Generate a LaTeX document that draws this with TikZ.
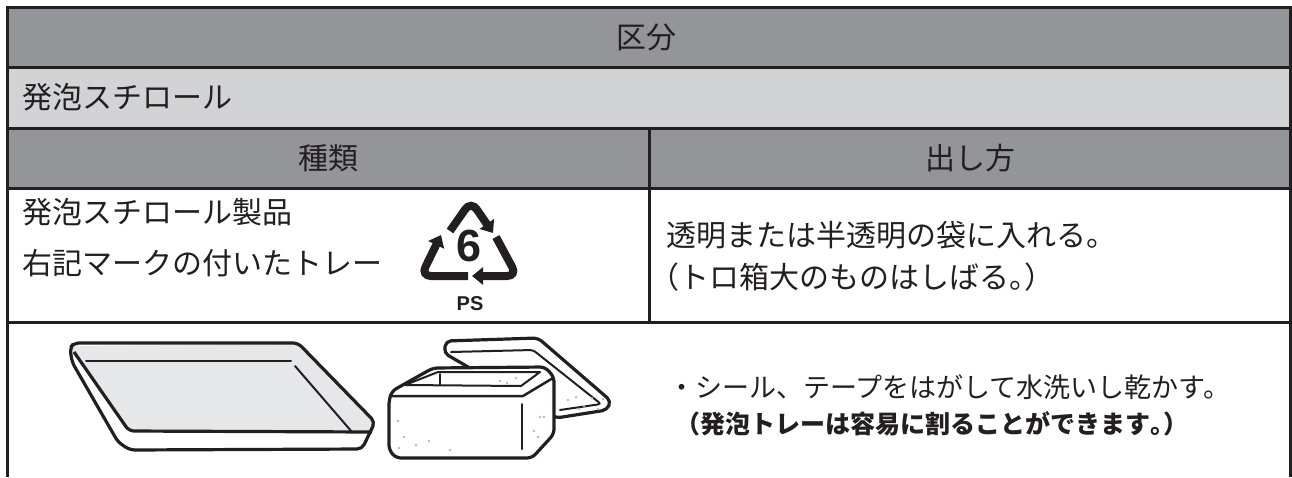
\documentclass[tikz,border=0pt]{standalone}
\usepackage{fontspec}
\setmainfont{Noto Sans CJK JP}
\newfontfamily\markfont{Liberation Sans}
\usetikzlibrary{arrows.meta,calc}
\definecolor{ink}{HTML}{231F20}
\definecolor{darkcell}{HTML}{939598}
\definecolor{lightcell}{HTML}{D1D3D4}
\definecolor{trayfill}{HTML}{E6E7E8}
\definecolor{dotgray}{HTML}{B8B8B8}
\newcommand\jhalf[1]{{\addfontfeature{RawFeature=+halt}#1}}
\tikzset{
  gridline/.style={line width=3pt,draw=ink},
  txt/.style={inner sep=0pt,text=ink,font=\fontsize{30}{36}\selectfont},
  notetext/.style={inner sep=0pt,text=ink,font=\fontsize{27}{32}\selectfont},
  heavyline/.style={line width=3.2pt,draw=ink,line join=round,rounded corners=5pt},
  fineline/.style={line width=2pt,draw=ink,line cap=round},
  speck/.style={fill=dotgray,draw=none},
  recarrow/.style={line width=8pt,draw=ink,rounded corners=10pt,-{Triangle[width=17pt,length=11pt]}}
}
\begin{document}
\begin{tikzpicture}[x=1pt,y=-1pt]
		\useasboundingbox (0,0) rectangle (1292,477);
		% table
		\fill[darkcell] (7,7) rectangle (1290,67);
		\fill[lightcell] (7,67) rectangle (1290,128);
		\fill[darkcell] (7,128) rectangle (1290,188);
		\foreach \y in {7,67,128,188,322}
			\draw[gridline] (7,\y) -- (1290,\y);
		\draw[gridline] (7,5.5) -- (7,477);
		\draw[gridline] (1290,5.5) -- (1290,477);
		\draw[gridline] (649,128) -- (649,322);
		\node[txt] (zone) at (646,37) {区分};
		\node[txt,anchor=west] (kindname) at (22,97) {発泡スチロール};
		\node[txt] (typehead) at (328,158) {種類};
		\node[txt] (wayhead) at (970,158) {出し方};
		\node[txt,anchor=west] (item1) at (22,212) {発泡スチロール製品};
		\node[txt,anchor=west] (item2) at (22,263) {右記マークの付いたトレー};
		\node[txt,anchor=west] (way1) at (666,235) {透明または半透明の袋に入れる。};
		\node[txt,anchor=west] (way2) at (664,277) {\jhalf{（}トロ箱大のものはしばる\jhalf{。）}};
		\node[notetext,anchor=west] (tip1) at (668,387) {・シール、テープをはがして水洗いし乾かす。};
		\node[notetext,anchor=west,font=\bfseries\fontsize{25}{30}\selectfont] (tip2) at (688,424) {\jhalf{（}発泡トレーは容易に割ることができます\jhalf{。）}};
		% recycling mark
		\coordinate (apex) at (471,201);
		\coordinate (cornerL) at (421,276);
		\coordinate (cornerR) at (517,276);
		\draw[recarrow] (450,231) -- (apex) -- (493,233);
		\draw[recarrow] (496,237) -- (cornerR) -- (472,276);
		\draw[recarrow] (468,276) -- (cornerL) -- (441,235);
		\node[inner sep=0pt,text=ink,font=\markfont\bfseries\fontsize{45}{45}\selectfont] (six) at (469,246) {6};
		\node[inner sep=0pt,text=ink,font=\markfont\bfseries\fontsize{20}{20}\selectfont] (ps) at (470,304) {PS};
		% tray
		\fill[trayfill] (71,346) -- (299,344) -- (374,422) -- (371,432) -- (135,432) -- (127,427) -- (74,353) -- cycle;
		\draw[heavyline] (74,352) -- (129,431) -- (372,432);
		\draw[heavyline] (74,343) -- (298,343) -- (375,422) -- (362,449) -- (130,450) -- (118,442) -- (72,362) -- (70,348) -- cycle;
		\draw[fineline] (86,361) -- (291,361);
		\draw[fineline] (295,366) -- (352,432);
		% cooler box
		\filldraw[fill=white,heavyline] (446,341) -- (538,338) -- (611,401) -- (607,410) -- (556,418) -- (444,353) -- cycle;
		\draw[fineline,rounded corners=3pt] (451,352) -- (533,350) -- (601,404) -- (560,410);
		\filldraw[fill=white,heavyline] (389,400) -- (392,391) -- (433,368) -- (545,367) -- (554,377) -- (554,434) -- (532,458) -- (396,458) -- (389,450) -- cycle;
		\draw[fineline,line join=round] (405,385) -- (438,372) -- (540,372) -- (521,386) -- cycle;
		\draw[line width=2.5pt,draw=ink,line join=round] (390,396) -- (523,396) -- (553,378);
		\draw[fineline] (522,404) -- (522,449);
		\draw[fineline] (440,374) -- (440,385);
		\foreach \p in {(398,421),(404,437),(399,448),(416,445),(429,441),(450,450),(534,431),(540,417),(544,417),(538,437),(500,381),(507,383),(516,378),(568,400),(576,397),(584,406),(592,398),(598,409),(603,399),(579,409)}
			\fill[speck] \p circle (1.3);
\end{tikzpicture}
\end{document}
